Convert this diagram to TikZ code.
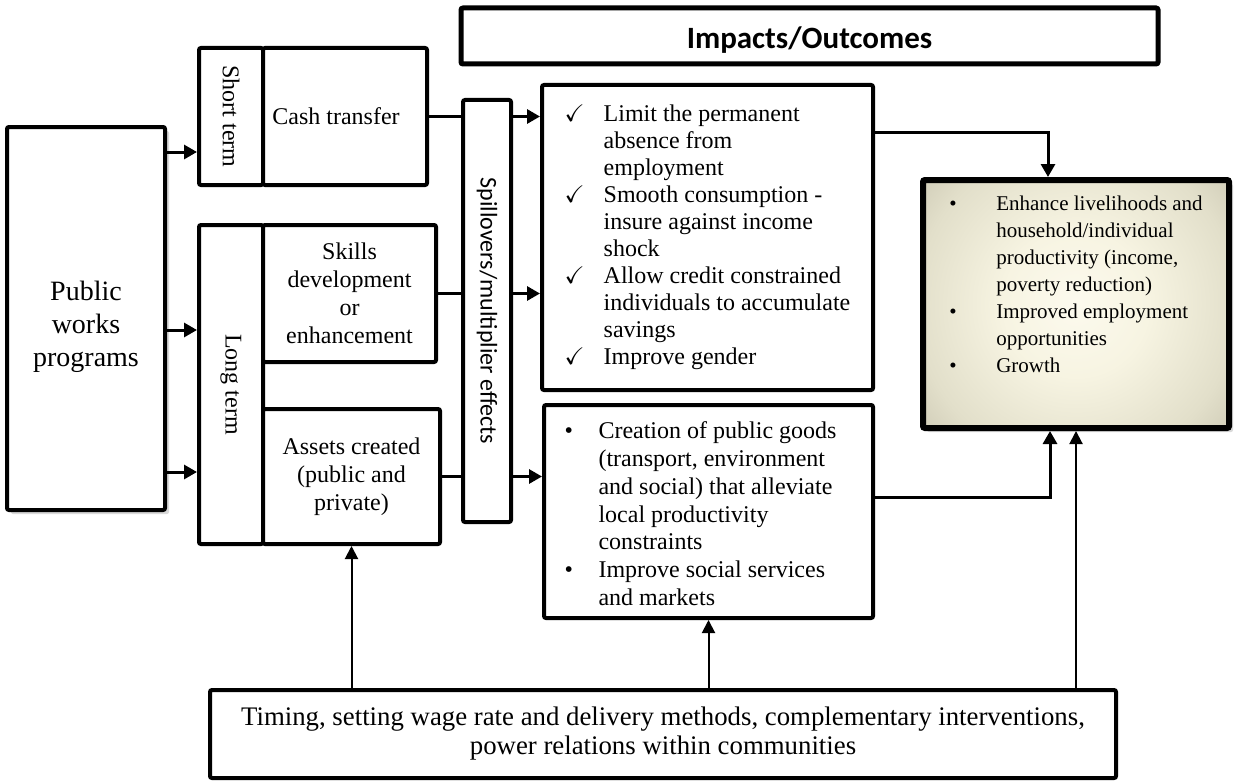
\documentclass[tikz,border=0pt]{standalone}
\usepackage{fontspec}
\usepackage{amssymb}
\setmainfont{Liberation Serif}
\setsansfont{Carlito}
\usetikzlibrary{arrows.meta,shadows}

\definecolor{glowA}{HTML}{FCFAEE}
\definecolor{glowB}{HTML}{F7F4E2}
\definecolor{glowC}{HTML}{E2DFCA}
\definecolor{glowD}{HTML}{C6C2AD}
\definecolor{glowE}{HTML}{A29E89}
\definecolor{glowF}{HTML}{777360}
\pgfdeclareradialshading{outglow}{\pgfpoint{0bp}{0bp}}{color(0bp)=(glowA); color(9bp)=(glowB); color(20bp)=(glowC); color(28bp)=(glowD); color(37bp)=(glowE); color(50bp)=(glowF)}

\begin{document}
\begin{tikzpicture}[x=0.5pt, y=-0.5pt,
  box/.style={draw=black, fill=white, line width=2pt, rounded corners=1pt, align=center, inner sep=0pt, font=\fontsize{12}{14}\selectfont},
  arr/.style={-{Triangle[length=6.5pt,width=7pt]}, line width=1.5pt},
  link/.style={line width=1.5pt},
  up/.style={-{Triangle[length=6.5pt,width=6.5pt]}, line width=1pt}]
\useasboundingbox (0,0) rectangle (1235,781);

\node[box, drop shadow={opacity=0.3,shadow xshift=2pt,shadow yshift=-2pt}, minimum width=79pt, minimum height=191.5pt, font=\fontsize{14}{16.5}\selectfont] (pw) at (86, 318.5) {\raisebox{-4pt}[\height][\depth]{\begin{tabular}{@{}c@{}}Public\\works\\programs\end{tabular}}};
\node[box, minimum width=32pt, minimum height=68.5pt] (st) at (231, 116.5) {\rotatebox{-90}{Short term}};
\node[box, minimum width=82pt, minimum height=68.5pt] (cash) at (345, 116.5) {Cash transfer\hspace{9pt}};
\node[box, minimum width=32pt, minimum height=159.5pt] (lt) at (231, 384.5) {\rotatebox{-90}{Long term}};
\node[box, minimum width=86.5pt, minimum height=68.5pt] (skills) at (349.5, 293.5) {Skills\\development\\or\\enhancement};
\node[box, minimum width=88.5pt, minimum height=67.5pt] (assets) at (351.5, 476.5) {Assets created\\(public and\\private)};
\node[box, minimum width=24pt, minimum height=211pt, font=\sffamily\fontsize{12}{14}\selectfont] (spill) at (487, 311) {\rotatebox{-90}{Spillovers/multiplier effects}};
\node[box, line width=2.5pt, minimum width=348.5pt, minimum height=28pt, font=\sffamily\bfseries\fontsize{15.5}{18}\selectfont] (title) at (809.5, 36) {\raisebox{-2pt}[\height][\depth]{Impacts/Outcomes}};
\node[box, minimum width=165.5pt, minimum height=152.5pt, font=\fontsize{12}{13.5}\selectfont] (checks) at (707.5, 237.5) {\begin{tabular}{@{}p{19.5pt}@{}l@{}}
$\checkmark$ & Limit the permanent\\
 & absence from\\
 & employment\\
$\checkmark$ & Smooth consumption -\\
 & insure against income\\
 & shock\\
$\checkmark$ & Allow credit constrained\\
 & individuals to accumulate\\
 & savings\\
$\checkmark$ & Improve gender
\end{tabular}};
\node[box, minimum width=164.5pt, minimum height=106.5pt, font=\fontsize{12}{13.9}\selectfont] (goods) at (708.5, 511.5) {\raisebox{-2.5pt}[\height][\depth]{\begin{tabular}{@{}p{17pt}@{}l@{}}
\textbullet & Creation of public goods\\
 & (transport, environment\\
 & and social) that alleviate\\
 & local productivity\\
 & constraints\\
\textbullet & Improve social services\\
 & and markets
\end{tabular}}\hspace{8pt}};
\node[box, line width=3pt, drop shadow={opacity=0.3,shadow xshift=2pt,shadow yshift=-2pt}, path picture={\shade[shading=outglow] (path picture bounding box.center) circle (201);}, minimum width=153pt, minimum height=124pt, font=\fontsize{10.5}{13.5}\selectfont] (outc) at (1076, 304) {\begin{tabular}{@{}p{23.5pt}@{}l@{}}
\textbullet & Enhance livelihoods and\\
 & household/individual\\
 & productivity (income,\\
 & poverty reduction)\\
\textbullet & Improved employment\\
 & opportunities\\
\textbullet & Growth\\[18pt]
\end{tabular}};
\node[box, minimum width=453pt, minimum height=44pt, font=\fontsize{13.4}{14.5}\selectfont] (cond) at (663, 734) {Timing, setting wage rate and delivery methods, complementary interventions,\\power relations within communities};

\draw[arr] (pw.east |- 0,152) -- (st.west |- 0,152);
\draw[arr] (pw.east |- 0,330) -- (lt.west |- 0,330);
\draw[arr] (pw.east |- 0,472) -- (lt.west |- 0,472);
\draw[link] (cash.east) -- (spill.west |- cash.east);
\draw[link] (skills.east) -- (spill.west |- skills.east);
\draw[link] (assets.east) -- (spill.west |- assets.east);
\draw[arr] (spill.east |- cash.east) -- (checks.west |- cash.east);
\draw[arr] (spill.east |- skills.east) -- (checks.west |- skills.east);
\draw[arr] (spill.east |- assets.east) -- (goods.west |- assets.east);
\draw[arr] (checks.east |- 0,132) -| (outc.north -| 1048,0);
\draw[arr] (goods.east |- 0,497) -| (outc.south -| 1050,0);
\draw[up] (cond.north -| assets.south) -- (assets.south);
\draw[up] (cond.north -| goods.south) -- (goods.south);
\draw[up] (cond.north -| outc.south) -- (outc.south);
\end{tikzpicture}
\end{document}
